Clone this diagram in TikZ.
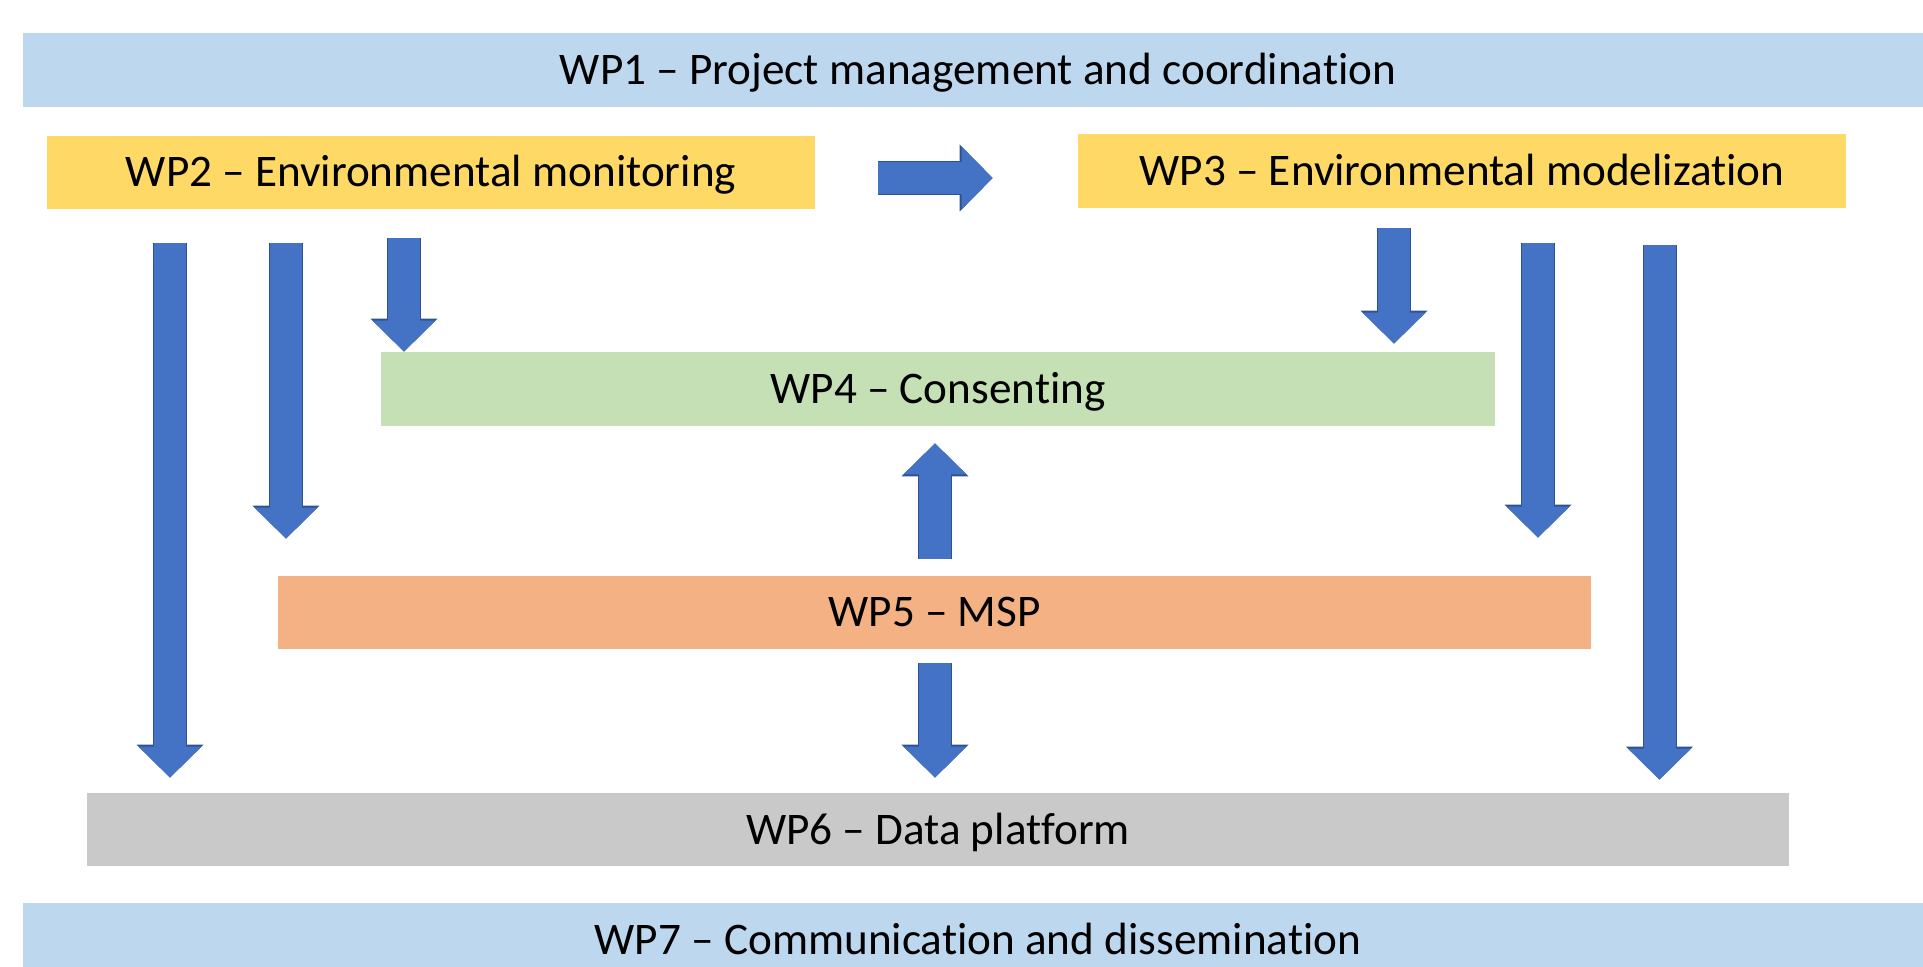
\documentclass[tikz,border=0pt]{standalone}
\usepackage{fontspec}
\setmainfont{Carlito}[Ligatures=NoCommon]
\usetikzlibrary{arrows.meta}

\definecolor{wpblue}{HTML}{BDD7EE}
\definecolor{wpyellow}{HTML}{FFD966}
\definecolor{wpgreen}{HTML}{C5E0B4}
\definecolor{wporange}{HTML}{F4B183}
\definecolor{wpgray}{HTML}{C9C9C9}
\definecolor{arrowblue}{HTML}{4472C4}
\definecolor{arrowedge}{HTML}{2F528F}

\newcommand{\wpfont}{\fontsize{22.6}{27}\selectfont}

\tikzset{
  wpbox/.style={rectangle, inner sep=0pt, font=\wpfont, text=black,
    text height=14.5pt, text depth=0pt},
  blockarrow/.style={line width=16pt, draw=arrowblue,
    -{Triangle[width=31.5pt, length=15.5pt, line width=0pt]},
    preaction={draw=arrowedge, line width=17pt,
      -{Triangle[width=33.5pt, length=16.5pt, line width=0pt]}}}
}

\begin{document}
\begin{tikzpicture}[x=0.5pt, y=-0.5pt]

\useasboundingbox (0,0) rectangle (1923,967);

% Top and bottom bands
\node[wpbox, fill=wpblue, minimum width=955pt, minimum height=37pt] (wp1) at (978,70) {WP1 – Project management and coordination};
\node[wpbox, fill=wpblue, minimum width=955pt, minimum height=37pt] (wp7) at (978,940) {WP7 – Communication and dissemination};

% Monitoring and modelization
\node[wpbox, fill=wpyellow, minimum width=384pt, minimum height=36.5pt] (wp2) at (431,172.5) {WP2 – Environmental monitoring};
\node[wpbox, fill=wpyellow, minimum width=384pt, minimum height=37pt] (wp3) at (1462,171) {WP3 – Environmental modelization};

% Middle boxes
\node[wpbox, fill=wpgreen, minimum width=557pt, minimum height=37pt] (wp4) at (938,389) {WP4 – Consenting};
\node[wpbox, fill=wporange, minimum width=656.5pt, minimum height=36.5pt] (wp5) at (934.5,612.5) {WP5 – MSP};
\node[wpbox, fill=wpgray, minimum width=851pt, minimum height=36.5pt] (wp6) at (938,829.5) {WP6 – Data platform};

% Arrow columns
\coordinate (c1) at (170,0);
\coordinate (c2) at (286,0);
\coordinate (c3) at (404,0);
\coordinate (c4) at (1394,0);
\coordinate (c5) at (1538,0);
\coordinate (c6) at (1659.5,0);
\coordinate (c7) at (935,0);
\coordinate (r1) at (0,178);

% From WP2
\draw[blockarrow, shorten <=31.5pt, shorten >=42.5pt] (wp2.east |- r1) -- (wp3.west |- r1);
\draw[blockarrow, shorten <=17pt, shorten >=7.5pt] (wp2.south -| c1) -- (wp6.north -| c1);
\draw[blockarrow, shorten <=17pt, shorten >=18.5pt] (wp2.south -| c2) -- (wp5.north -| c2);
\draw[blockarrow, shorten <=14.5pt] (wp2.south -| c3) -- (wp4.north -| c3);

% From WP3
\draw[blockarrow, shorten <=10pt, shorten >=4pt] (wp3.south -| c4) -- (wp4.north -| c4);
\draw[blockarrow, shorten <=17.5pt, shorten >=19pt] (wp3.south -| c5) -- (wp5.north -| c5);
\draw[blockarrow, shorten <=18.5pt, shorten >=6.5pt] (wp3.south -| c6) -- (wp6.north -| c6);

% From WP5
\draw[blockarrow, shorten <=8.5pt, shorten >=8.5pt] (wp5.north -| c7) -- (wp4.south -| c7);
\draw[blockarrow, shorten <=7pt, shorten >=7.5pt] (wp5.south -| c7) -- (wp6.north -| c7);

\end{tikzpicture}
\end{document}
